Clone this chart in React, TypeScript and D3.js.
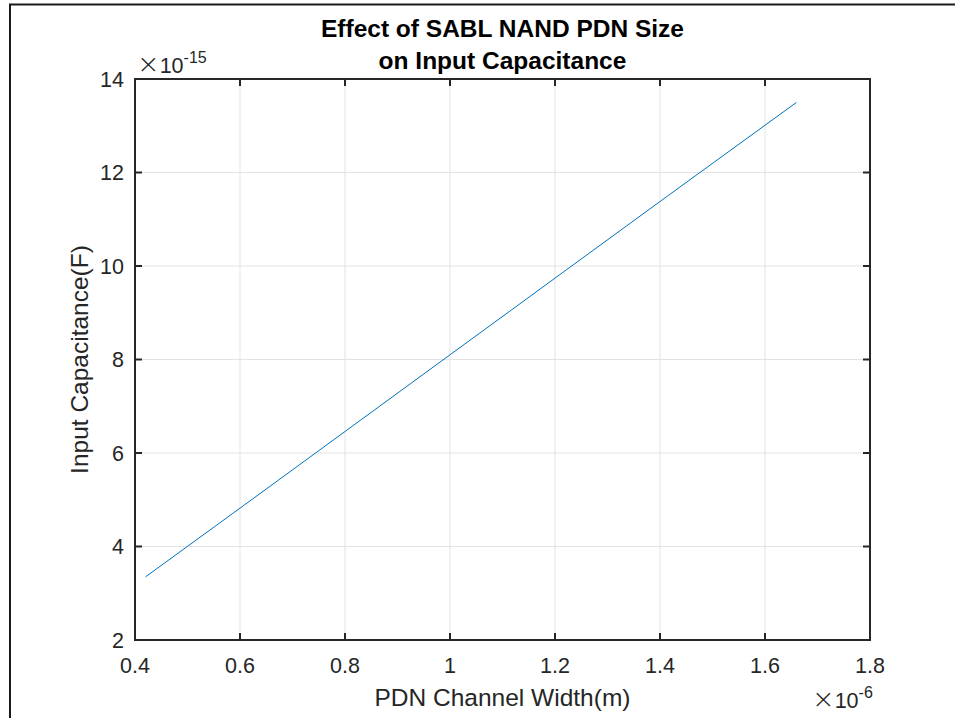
import React, { useEffect, useRef } from 'react';
import * as d3 from 'd3';

const widthUm = [0.42, 0.6, 0.8, 1.0, 1.2, 1.4, 1.66];
const capFf = [3.35, 4.82, 6.46, 8.1, 9.74, 11.38, 13.5];
const xTicks = [0.4, 0.6, 0.8, 1, 1.2, 1.4, 1.6, 1.8];
const yTicks = [2, 4, 6, 8, 10, 12, 14];

const W = 955;
const H = 718;
const FONT = 'Arial, "Liberation Sans", Helvetica, sans-serif';

const App: React.FC = () => {
  const svgRef = useRef<SVGSVGElement>(null);

  useEffect(() => {
    if (!svgRef.current) return;
    const svg = d3.select(svgRef.current);
    svg.selectAll('*').remove();

    const margin = { top: 79, right: 85, bottom: 78, left: 135 };
    const iw = W - margin.left - margin.right;
    const ih = H - margin.top - margin.bottom;

    // figure frame (right/bottom edges run off the page)
    svg.append('rect')
      .attr('x', 10).attr('y', 4.5)
      .attr('width', W + 20).attr('height', H + 20)
      .attr('fill', 'white').attr('stroke', '#1a1a1a').attr('stroke-width', 2);

    const g = svg.append('g').attr('transform', `translate(${margin.left},${margin.top})`);

    const x = d3.scaleLinear().domain([0.4, 1.8]).range([0, iw]);
    const y = d3.scaleLinear().domain([2, 14]).range([ih, 0]);

    // grid
    g.selectAll('.gx').data(xTicks.slice(1, -1)).enter().append('line')
      .attr('x1', (d) => x(d)).attr('x2', (d) => x(d))
      .attr('y1', 0).attr('y2', ih)
      .attr('stroke', '#e3e3e3').attr('stroke-width', 1);
    g.selectAll('.gy').data(yTicks.slice(1, -1)).enter().append('line')
      .attr('y1', (d) => y(d)).attr('y2', (d) => y(d))
      .attr('x1', 0).attr('x2', iw)
      .attr('stroke', '#e3e3e3').attr('stroke-width', 1);

    // data line
    const pts = widthUm.map((w, i) => [w, capFf[i]] as [number, number]);
    g.append('path')
      .datum(pts)
      .attr('fill', 'none')
      .attr('stroke', '#0072BD')
      .attr('stroke-width', 1)
      .attr('d', d3.line<[number, number]>().x((d) => x(d[0])).y((d) => y(d[1])));

    // box
    g.append('rect')
      .attr('x', 0).attr('y', 0).attr('width', iw).attr('height', ih)
      .attr('fill', 'none').attr('stroke', '#262626').attr('stroke-width', 2);

    // ticks (inward, on both sides)
    const tl = 7;
    xTicks.forEach((t) => {
      g.append('line').attr('x1', x(t)).attr('x2', x(t)).attr('y1', ih).attr('y2', ih - tl)
        .attr('stroke', '#262626').attr('stroke-width', 2);
      g.append('line').attr('x1', x(t)).attr('x2', x(t)).attr('y1', 0).attr('y2', tl)
        .attr('stroke', '#262626').attr('stroke-width', 2);
      g.append('text')
        .attr('x', x(t)).attr('y', ih + 33)
        .attr('text-anchor', 'middle')
        .attr('font-family', FONT).attr('font-size', 21.5).attr('fill', '#262626')
        .text(d3.format('~g')(t));
    });
    yTicks.forEach((t) => {
      g.append('line').attr('y1', y(t)).attr('y2', y(t)).attr('x1', 0).attr('x2', tl)
        .attr('stroke', '#262626').attr('stroke-width', 2);
      g.append('line').attr('y1', y(t)).attr('y2', y(t)).attr('x1', iw).attr('x2', iw - tl)
        .attr('stroke', '#262626').attr('stroke-width', 2);
      g.append('text')
        .attr('x', -11).attr('y', y(t)).attr('dy', '0.36em')
        .attr('text-anchor', 'end')
        .attr('font-family', FONT).attr('font-size', 21.5).attr('fill', '#262626')
        .text(t);
    });

    // exponent labels
    const yExp = g.append('text')
      .attr('x', 2).attr('y', -6)
      .attr('font-family', FONT).attr('font-size', 21.5).attr('fill', '#262626');
    yExp.append('tspan').attr('font-size', 27).attr('font-family', '"DejaVu Sans", sans-serif')
      .attr('font-weight', 200).text('\u00d7');
    yExp.append('tspan').text('10');
    yExp.append('tspan').attr('dy', -10).attr('font-size', 16).text('-15');

    const xExp = g.append('text')
      .attr('x', iw - 58).attr('y', ih + 68)
      .attr('font-family', FONT).attr('font-size', 21.5).attr('fill', '#262626');
    xExp.append('tspan').attr('font-size', 27).attr('font-family', '"DejaVu Sans", sans-serif')
      .attr('font-weight', 200).text('\u00d7');
    xExp.append('tspan').text('10');
    xExp.append('tspan').attr('dy', -10).attr('font-size', 16).text('-6');

    // axis labels
    g.append('text')
      .attr('x', iw / 2).attr('y', ih + 66)
      .attr('text-anchor', 'middle')
      .attr('font-family', FONT).attr('font-size', 24.5).attr('fill', '#262626')
      .text('PDN Channel Width(m)');
    g.append('text')
      .attr('transform', `translate(${-47},${ih / 2}) rotate(-90)`)
      .attr('text-anchor', 'middle')
      .attr('font-family', FONT).attr('font-size', 24.5).attr('fill', '#262626')
      .text('Input Capacitance(F)');

    // title
    const title = g.append('text')
      .attr('x', iw / 2).attr('text-anchor', 'middle')
      .attr('font-family', FONT).attr('font-size', 24.5).attr('font-weight', 'bold').attr('fill', '#000');
    title.append('tspan').attr('x', iw / 2).attr('y', -42).text('Effect of SABL NAND PDN Size');
    title.append('tspan').attr('x', iw / 2).attr('y', -10).text('on Input Capacitance');
  }, []);

  return (
    <svg
      ref={svgRef}
      width={W}
      height={H}
      style={{ position: 'absolute', left: 0, top: 0, background: 'white' }}
    />
  );
};

export default App;
